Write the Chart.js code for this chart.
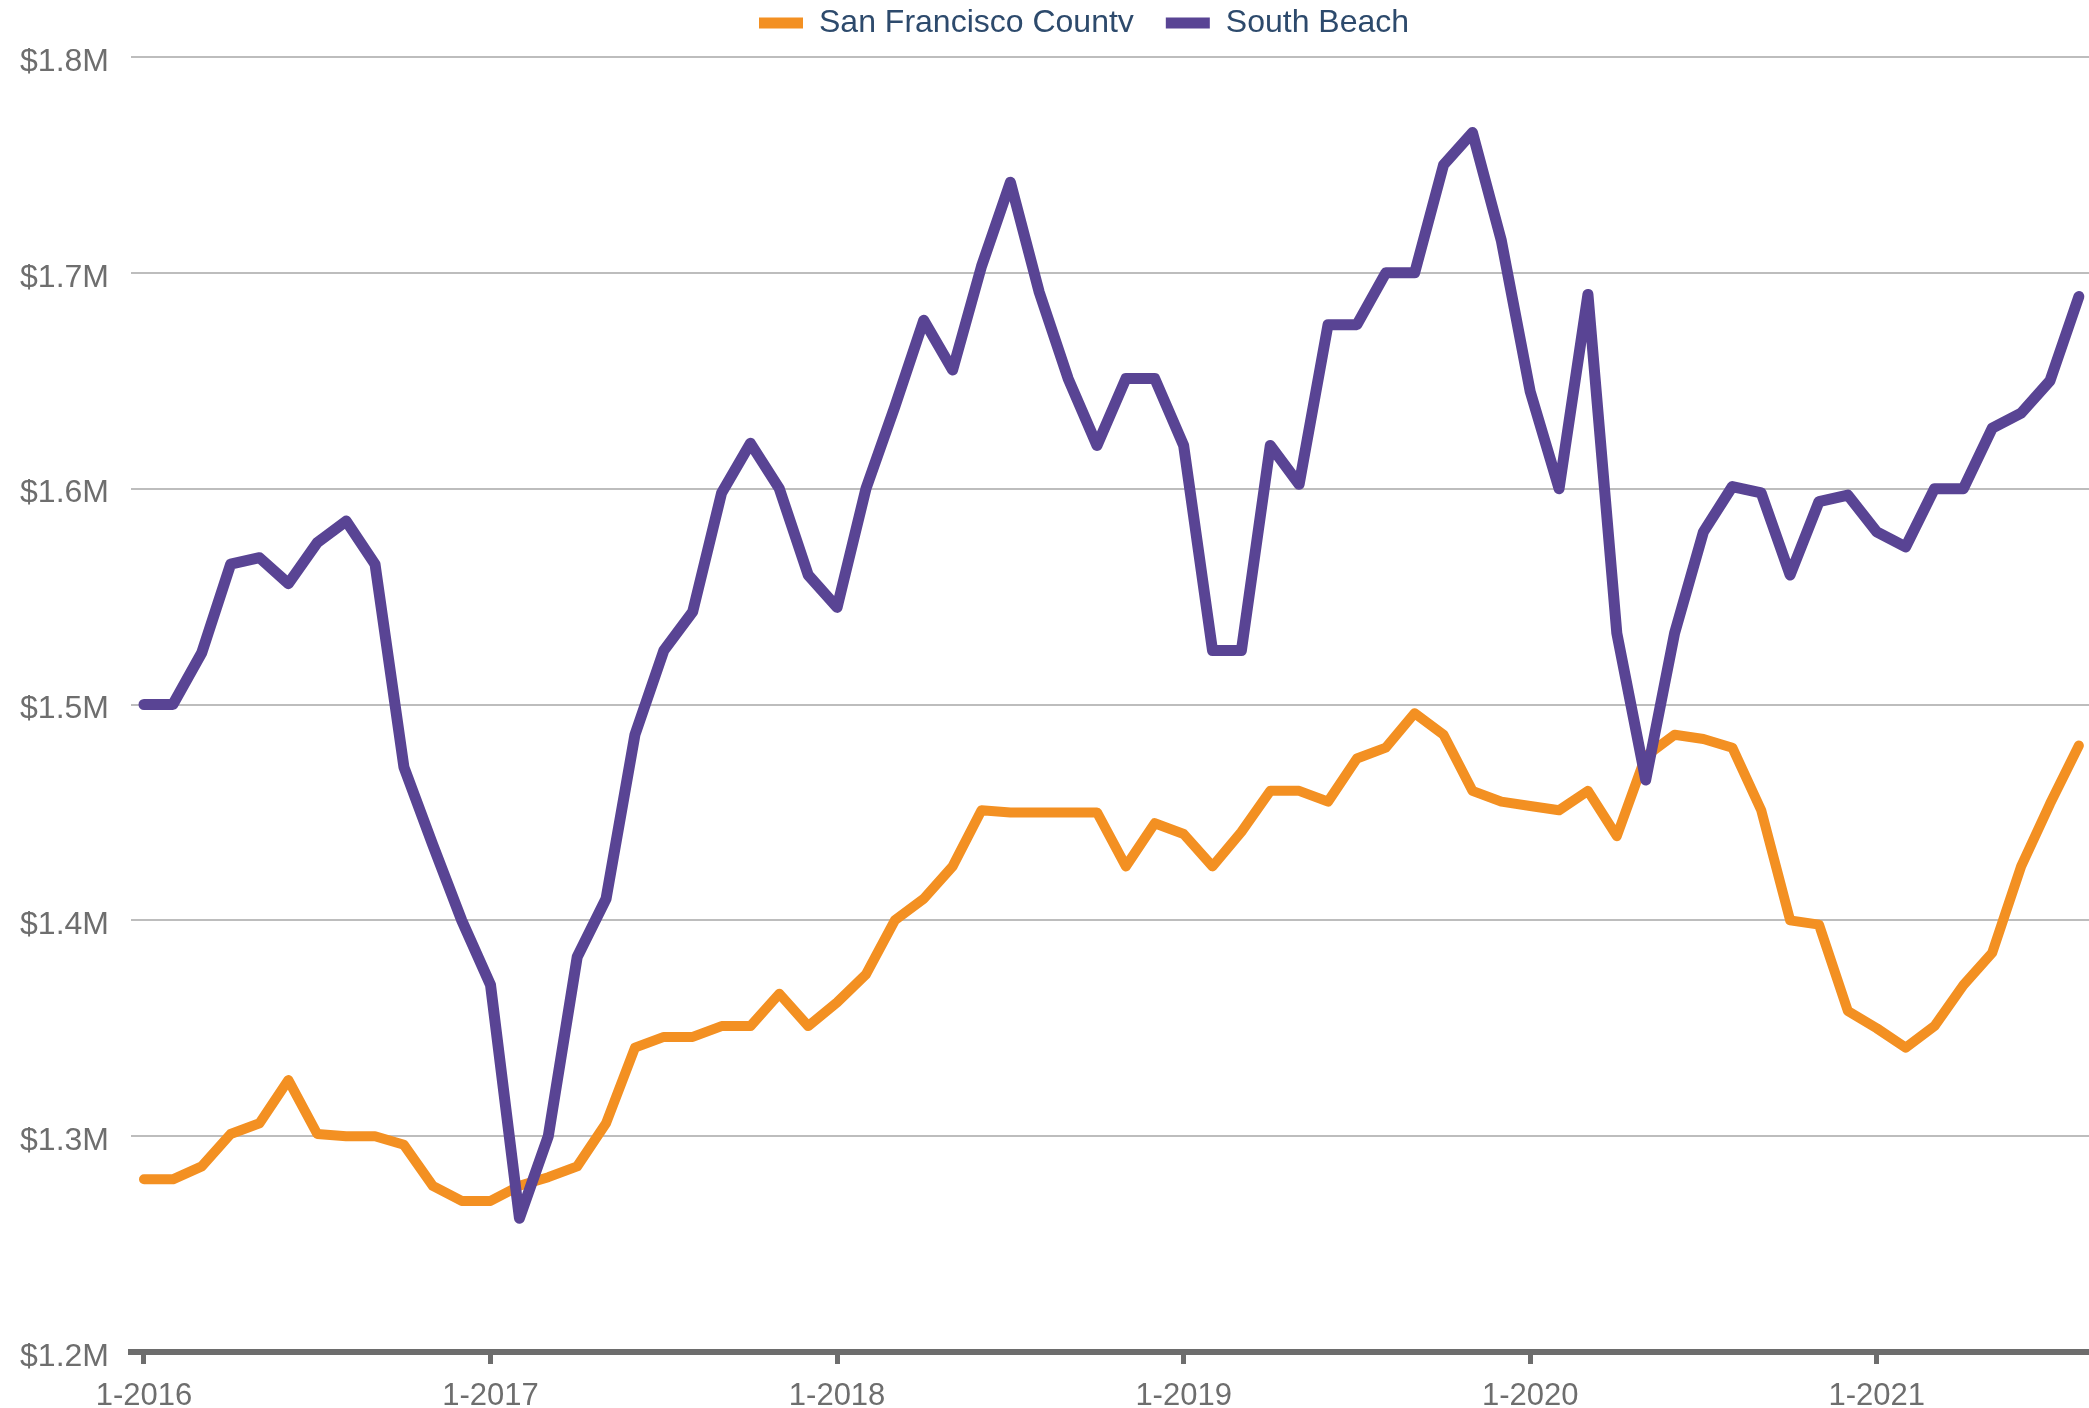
<!DOCTYPE html>
<html>
<head>
<meta charset="utf-8">
<script src="https://cdn.jsdelivr.net/npm/chart.js@4/dist/chart.umd.min.js"></script>
<style>
html,body{margin:0;padding:0;background:#ffffff;}
#wrap{width:2089px;height:1408px;position:relative;}
</style>
</head>
<body>
<div id="wrap"><canvas id="c" width="2089" height="1408"></canvas></div>
<script>
const months = [
  "1-2016","2-2016","3-2016","4-2016","5-2016","6-2016","7-2016","8-2016","9-2016","10-2016","11-2016","12-2016",
  "1-2017","2-2017","3-2017","4-2017","5-2017","6-2017","7-2017","8-2017","9-2017","10-2017","11-2017","12-2017",
  "1-2018","2-2018","3-2018","4-2018","5-2018","6-2018","7-2018","8-2018","9-2018","10-2018","11-2018","12-2018",
  "1-2019","2-2019","3-2019","4-2019","5-2019","6-2019","7-2019","8-2019","9-2019","10-2019","11-2019","12-2019",
  "1-2020","2-2020","3-2020","4-2020","5-2020","6-2020","7-2020","8-2020","9-2020","10-2020","11-2020","12-2020",
  "1-2021","2-2021","3-2021","4-2021","5-2021","6-2021","7-2021","8-2021"
];

// Median price, millions of dollars
const sfCounty = [
  1.280,1.280,1.286,1.301,1.306,1.326,1.301,1.300,1.300,1.296,1.277,1.270,
  1.270,1.277,1.281,1.286,1.306,1.341,1.346,1.346,1.351,1.351,1.366,1.351,
  1.362,1.375,1.400,1.410,1.425,1.451,1.450,1.450,1.450,1.450,1.425,1.445,
  1.440,1.425,1.441,1.460,1.460,1.455,1.475,1.480,1.496,1.486,1.460,1.455,
  1.453,1.451,1.460,1.439,1.476,1.486,1.484,1.480,1.451,1.400,1.398,1.358,
  1.350,1.341,1.351,1.370,1.385,1.425,1.454,1.481
];

const southBeach = [
  1.500,1.500,1.524,1.565,1.568,1.556,1.575,1.585,1.565,1.471,1.435,1.400,
  1.370,1.262,1.300,1.383,1.410,1.486,1.525,1.543,1.598,1.621,1.600,1.560,
  1.545,1.600,1.638,1.678,1.655,1.703,1.742,1.691,1.651,1.620,1.651,1.651,
  1.620,1.525,1.525,1.620,1.602,1.676,1.676,1.700,1.700,1.750,1.765,1.715,
  1.645,1.600,1.690,1.533,1.465,1.533,1.580,1.601,1.598,1.560,1.594,1.597,
  1.580,1.573,1.600,1.600,1.628,1.635,1.650,1.689
];

const xTickLabels = ["1-2016","1-2017","1-2018","1-2019","1-2020","1-2021"];
const yTickValues = [1.2,1.3,1.4,1.5,1.6,1.7,1.8];

const seriesNames = ["San Francisco County","South Beach"];
const seriesColors = ["#f39022","#594494"];

const FONT = "'Liberation Sans', Arial, sans-serif";
const AXIS_TEXT = "#6e6e6e";

const toPoints = arr => arr.map((v, i) => ({x: i, y: v}));

const legendPlace = {
  id: 'legendPlace',
  beforeInit(chart) {
    const lg = chart.legend;
    if (lg && !lg._patched) {
      const f = lg.fit.bind(lg);
      lg.fit = function () { f(); this.height = 57; };
      lg._patched = true;
    }
  },
  afterLayout(chart) {
    const lg = chart.legend;
    if (!lg) return;
    const pad = lg.options.labels.padding;
    lg.top = 23 - pad - 16;
    lg.bottom = lg.top + lg.height;
    const curStart = (lg.left + pad + lg.right - lg.lineWidths[0]) / 2;
    const dx = 759 - curStart;
    lg.left += dx;
    lg.right += dx;
  }
};

new Chart(document.getElementById('c'), {
  type: 'line',
  data: {
    datasets: [
      {
        label: seriesNames[0],
        data: toPoints(sfCounty),
        borderColor: seriesColors[0],
        backgroundColor: seriesColors[0],
        borderWidth: 10,
        pointRadius: 0,
        tension: 0,
        borderJoinStyle: 'round',
        borderCapStyle: 'round',
        order: 2
      },
      {
        label: seriesNames[1],
        data: toPoints(southBeach),
        borderColor: seriesColors[1],
        backgroundColor: seriesColors[1],
        borderWidth: 11,
        pointRadius: 0,
        tension: 0,
        borderJoinStyle: 'round',
        borderCapStyle: 'round',
        order: 1
      }
    ]
  },
  options: {
    responsive: false,
    animation: false,
    devicePixelRatio: 1,
    layout: { padding: { left: 0, right: 0, top: 0, bottom: 0 } },
    plugins: {
      tooltip: { enabled: false },
      legend: {
        position: 'top',
        align: 'center',
        labels: {
          boxWidth: 44,
          boxHeight: 11,
          padding: 32,
          color: '#2d4a6c',
          font: { family: FONT, size: 32 },
          sort: (a, b) => a.datasetIndex - b.datasetIndex,
          generateLabels: (chart) => {
            const items = Chart.defaults.plugins.legend.labels.generateLabels(chart);
            items.forEach(it => { it.lineWidth = 0; it.fillStyle = it.strokeStyle; });
            return items;
          }
        }
      }
    },
    scales: {
      x: {
        type: 'linear',
        position: 'bottom',
        min: -0.45,
        max: 67.35,
        afterBuildTicks: (scale) => {
          scale.ticks = xTickLabels.map(l => ({ value: months.indexOf(l) }));
        },
        afterFit: (scale) => { scale.height = 56; },
        grid: {
          drawOnChartArea: false,
          drawTicks: true,
          tickLength: 12,
          tickWidth: 5,
          tickColor: '#6d6d6d'
        },
        border: { display: true, color: '#6d6d6d', width: 6 },
        ticks: {
          color: AXIS_TEXT,
          font: { family: FONT, size: 31 },
          padding: 14,
          maxRotation: 0,
          autoSkip: false,
          callback: (v) => months[v]
        }
      },
      y: {
        min: 1.2,
        max: 1.8,
        afterBuildTicks: (scale) => {
          scale.ticks = yTickValues.map(v => ({ value: v }));
        },
        afterFit: (scale) => { scale.width = 131; },
        grid: {
          color: '#bdbdbd',
          lineWidth: 2,
          drawTicks: false
        },
        border: { display: false },
        ticks: {
          color: AXIS_TEXT,
          font: { family: FONT, size: 32 },
          padding: 22,
          labelOffset: 5,
          callback: (v) => '$' + Number(v).toFixed(1) + 'M'
        }
      }
    }
  },
  plugins: [legendPlace]
});
</script>
</body>
</html>
